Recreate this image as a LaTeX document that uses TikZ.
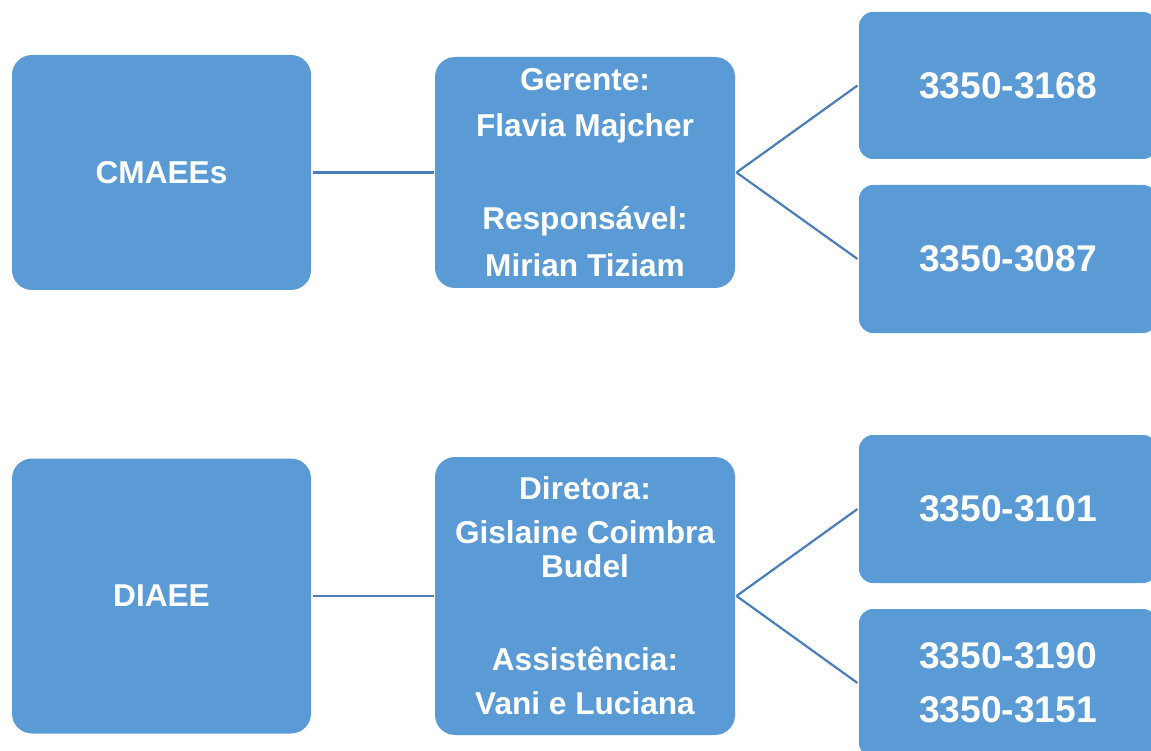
\documentclass[tikz,border=0pt]{standalone}
\usepackage{fontspec}
\setmainfont{Liberation Sans}
\definecolor{boxfill}{HTML}{5B9BD5}
\definecolor{linecol}{HTML}{4A7EBB}
\begin{document}
\begin{tikzpicture}[x=1pt,y=-1pt,
  box/.style={fill=boxfill, draw=none, rounded corners=20pt, text=white, align=center,
    font=\bfseries\fontsize{31.6}{44}\selectfont, inner sep=0pt, outer sep=1.5pt},
  numbox/.style={box, rounded corners=14pt, font=\bfseries\fontsize{37.2}{54}\selectfont,
    minimum width=298pt},
  conn/.style={draw=linecol, line width=2.2pt}]
\useasboundingbox (0,0) rectangle (1151,751);
\clip (0,0) rectangle (1151,751);
% top group
\node[box, minimum width=299pt, minimum height=235pt] (cm) at (161.5,172.5) {CMAEEs};
\node[box, minimum width=300pt, minimum height=231pt, font=\bfseries\fontsize{31.6}{46.5}\selectfont] (ger) at (585,172.5)
  {Gerente:\\Flavia Majcher\\[46.5pt]Responsável:\\Mirian Tiziam};
\node[numbox, minimum height=147pt] (t1) at (1008,85.5) {3350-3168};
\node[numbox, minimum height=148pt] (t2) at (1008,259) {3350-3087};
% bottom group
\node[box, minimum width=299pt, minimum height=275pt] (di) at (161.5,596) {DIAEE};
\node[box, minimum width=300pt, minimum height=278pt] (dir) at (585,596)
  {Diretora:\\Gislaine Coimbra\\[-10pt]Budel\\[49pt]Assistência:\\Vani e Luciana};
\node[numbox, minimum height=148pt] (t3) at (1008,509) {3350-3101};
\node[numbox, minimum height=148pt] (t4) at (1008,683) {3350-3190\\3350-3151};
% connectors
\draw[conn] (cm.east) -- (ger.west);
\draw[conn] (ger.east) -- (t1.west);
\draw[conn] (ger.east) -- (t2.west);
\draw[conn] (di.east) -- (dir.west);
\draw[conn] (dir.east) -- (t3.west);
\draw[conn] (dir.east) -- (t4.west);
\end{tikzpicture}
\end{document}
